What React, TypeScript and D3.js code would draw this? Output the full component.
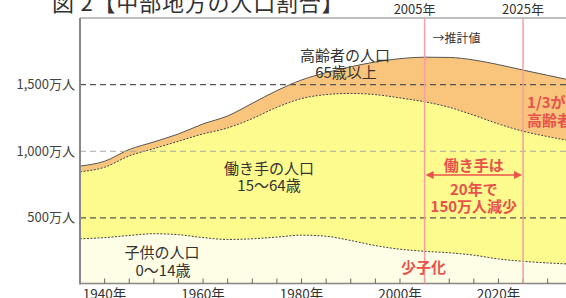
import React from 'react';
import * as d3 from 'd3';

// 年（5年ごと）
const years = [1935, 1940, 1945, 1950, 1955, 1960, 1965, 1970, 1975, 1980, 1985, 1990, 1995, 2000, 2005, 2010, 2015, 2020, 2025, 2030, 2035];
// 子供の人口 0〜14歳（万人）
const children = [343, 352, 368, 381, 374, 352, 338, 343, 356, 370, 362, 330, 292, 265, 249, 238, 220, 192, 174, 162, 152];
// 働き手の人口 15〜64歳（万人）
const working = [503, 528, 597, 639, 701, 778, 837, 902, 974, 1025, 1063, 1104, 1133, 1135, 1122, 1092, 1050, 1013, 976, 948, 923];
// 高齢者の人口 65歳以上（万人）
const elderly = [43, 45, 48, 50, 55, 75, 90, 115, 125, 140, 165, 200, 245, 295, 335, 374, 415, 445, 459, 460, 455];

const yTicks = [500, 1000, 1500];
const yTickLabels = ['500万人', '1,000万人', '1,500万人'];
const xTickYears = [1940, 1945, 1950, 1955, 1960, 1965, 1970, 1975, 1980, 1985, 1990, 1995, 2000, 2005, 2010, 2015, 2020, 2025, 2030];
const xLabelYears = [1940, 1960, 1980, 2000, 2020];
const markYears = [2005, 2025];

const W = 566;
const H = 298;
const font = '"Noto Sans CJK JP", "Noto Sans", sans-serif';
const red = '#e8524c';
const redLine = '#f2a0a0';

const x = d3.scaleLinear().domain([1935, 2035]).range([80, 572.3]);
const y = d3.scaleLinear().domain([0, 2000]).range([284.5, 18]);

const rows = years.map((yr, i) => ({ year: yr, children: children[i], working: working[i], elderly: elderly[i] }));
const series = d3.stack<any>().keys(['children', 'working', 'elderly'])(rows);
const fills = ['#fefde6', '#fdfa8e', '#f9c57c'];

const area = d3.area<any>()
    .x(d => x(d.data.year))
    .y0(d => y(d[0]))
    .y1(d => y(d[1]))
    .curve(d3.curveMonotoneX);

const topLine = d3.line<any>()
    .x(d => x(d.data.year))
    .y(d => y(d[1]))
    .curve(d3.curveMonotoneX);

const App = () => {
    const x0 = x(1935);
    const yTop = y(2000);
    const yBase = y(0);
    const a1 = x(2005);
    const a2 = x(2025);
    const mid = (a1 + a2) / 2;

    return (
        <div style={{ position: 'absolute', left: 0, top: 0 }}>
            <svg width={W} height={H} style={{ display: 'block', fontFamily: font }}>
                <rect width={W} height={H} fill="#fff" />
                {/* タイトル（上部が切れている） */}
                <text x={52} y={10.5} fontSize={22} letterSpacing={0.8} fill="#333">図 2【中部地方の人口割合】</text>

                {/* 面グラフ */}
                {series.map((s, i) => (
                    <path key={s.key} d={area(s) || ''} fill={fills[i]} />
                ))}
                {series.map((s, i) => (
                    <path key={'l' + s.key} d={topLine(s) || ''} fill="none"
                        stroke={i === 2 ? '#555' : '#444'} strokeWidth={1}
                        strokeDasharray={i === 2 ? '' : '2,1.5'} />
                ))}

                {/* 目盛り線 */}
                {yTicks.map((t, i) => (
                    <g key={t}>
                        <line x1={x0} x2={W} y1={y(t)} y2={y(t)}
                            stroke={t === 1000 ? '#a9a9a0' : '#555'} strokeWidth={1.2} strokeDasharray="6,4" />
                        <text x={75} y={y(t)} dy="0.35em" textAnchor="end" fontSize={13} fill="#444">{yTickLabels[i]}</text>
                    </g>
                ))}

                {/* 軸 */}
                <line x1={x0} x2={W} y1={yTop} y2={yTop} stroke="#aaa" strokeWidth={1.5} />
                <line x1={x0} x2={x0} y1={yTop} y2={yBase} stroke="#888" strokeWidth={2} />
                <line x1={x0} x2={W} y1={yBase - 1} y2={yBase - 1} stroke="#888" strokeWidth={1.5} />
                {xTickYears.map(t => (
                    <line key={t} x1={x(t)} x2={x(t)} y1={yBase - 1} y2={yBase - 6} stroke="#666" strokeWidth={1} />
                ))}
                {xLabelYears.map(t => (
                    <text key={t} x={x(t)} y={299} textAnchor="middle" fontSize={13.5} fill="#333">{t}年</text>
                ))}

                {/* 2005年・2025年の線 */}
                {markYears.map((t, i) => (
                    <g key={t}>
                        <line x1={x(t)} x2={x(t)} y1={yTop} y2={yBase - 1} stroke={redLine} strokeWidth={1.5} />
                        <text x={x(t) - (i === 0 ? 10 : 0)} y={14} textAnchor="middle" fontSize={13} fill="#333">{t}年</text>
                    </g>
                ))}
                <text x={a1 + 8} y={43} fontSize={12} fill="#333">→推計値</text>

                {/* ラベル */}
                <g fill="#333" fontSize={15} textAnchor="middle">
                    <text x={345} y={61}>高齢者の人口</text>
                    <text x={346} y={78}>65歳以上</text>
                    <text x={269} y={174}>働き手の人口</text>
                    <text x={269} y={191}>15〜64歳</text>
                    <text x={162} y={258}>子供の人口</text>
                    <text x={163} y={276}>0〜14歳</text>
                </g>

                {/* 赤い注記 */}
                <g fill={red} fontSize={15} fontWeight="bold">
                    <text x={mid} y={171} textAnchor="middle">働き手は</text>
                    <text x={mid} y={195} textAnchor="middle">20年で</text>
                    <text x={mid} y={212} textAnchor="middle">150万人減少</text>
                    <text x={a1 - 1} y={273} textAnchor="middle">少子化</text>
                    <text x={a2 + 4} y={108}>1/3が</text>
                    <text x={a2 + 4} y={126}>高齢者</text>
                </g>
                <line x1={a1 + 7} x2={a2 - 7} y1={175} y2={175} stroke={red} strokeWidth={1.5} />
                <path d={`M${a1 + 1},175 L${a1 + 9},171 L${a1 + 9},179 Z`} fill={red} />
                <path d={`M${a2 - 1},175 L${a2 - 9},171 L${a2 - 9},179 Z`} fill={red} />
            </svg>
        </div>
    );
};

export default App;
